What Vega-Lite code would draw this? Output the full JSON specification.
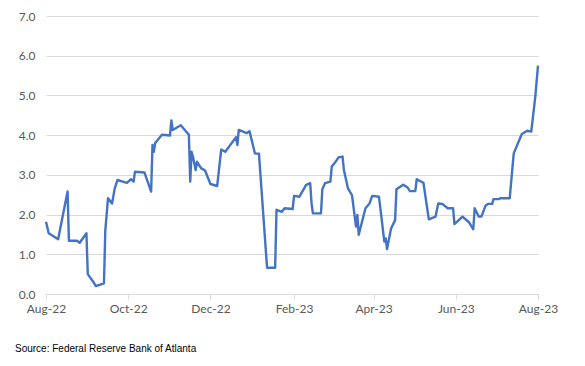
{
  "$schema": "https://vega.github.io/schema/vega-lite/v6.json",
  "width": 492,
  "height": 278,
  "autosize": {"type": "none"},
  "padding": {"left": 46, "top": 16, "right": 47, "bottom": 72},
  "background": "white",
  "config": {"view": {"stroke": null}},
  "title": {
    "text": "Source: Federal Reserve Bank of Atlanta",
    "orient": "bottom",
    "anchor": "start",
    "frame": "group",
    "offset": 30,
    "dx": -31,
    "font": "Liberation Sans",
    "fontSize": 10,
    "fontWeight": "normal",
    "color": "#000000"
  },
  "data": {
    "values": [
      {"date": "2022-08-01", "value": 1.82},
      {"date": "2022-08-03", "value": 1.53},
      {"date": "2022-08-10", "value": 1.38},
      {"date": "2022-08-17", "value": 2.58},
      {"date": "2022-08-18", "value": 1.34},
      {"date": "2022-08-24", "value": 1.34},
      {"date": "2022-08-26", "value": 1.29},
      {"date": "2022-08-31", "value": 1.53},
      {"date": "2022-09-01", "value": 0.50},
      {"date": "2022-09-05", "value": 0.31},
      {"date": "2022-09-07", "value": 0.20},
      {"date": "2022-09-13", "value": 0.27},
      {"date": "2022-09-14", "value": 1.60},
      {"date": "2022-09-16", "value": 2.41},
      {"date": "2022-09-19", "value": 2.28},
      {"date": "2022-09-21", "value": 2.66},
      {"date": "2022-09-23", "value": 2.87},
      {"date": "2022-09-30", "value": 2.80},
      {"date": "2022-10-03", "value": 2.89},
      {"date": "2022-10-05", "value": 2.83},
      {"date": "2022-10-06", "value": 3.08},
      {"date": "2022-10-13", "value": 3.06},
      {"date": "2022-10-18", "value": 2.58},
      {"date": "2022-10-19", "value": 3.75},
      {"date": "2022-10-20", "value": 3.58},
      {"date": "2022-10-21", "value": 3.80},
      {"date": "2022-10-26", "value": 4.01},
      {"date": "2022-11-01", "value": 3.99},
      {"date": "2022-11-02", "value": 4.37},
      {"date": "2022-11-03", "value": 4.13},
      {"date": "2022-11-09", "value": 4.25},
      {"date": "2022-11-15", "value": 4.01},
      {"date": "2022-11-16", "value": 2.83},
      {"date": "2022-11-17", "value": 3.58},
      {"date": "2022-11-18", "value": 3.46},
      {"date": "2022-11-20", "value": 3.12},
      {"date": "2022-11-21", "value": 3.33},
      {"date": "2022-11-24", "value": 3.17},
      {"date": "2022-11-27", "value": 3.11},
      {"date": "2022-12-01", "value": 2.77},
      {"date": "2022-12-06", "value": 2.72},
      {"date": "2022-12-09", "value": 3.64},
      {"date": "2022-12-12", "value": 3.58},
      {"date": "2022-12-20", "value": 3.95},
      {"date": "2022-12-21", "value": 3.75},
      {"date": "2022-12-22", "value": 4.13},
      {"date": "2022-12-28", "value": 4.05},
      {"date": "2022-12-30", "value": 4.10},
      {"date": "2023-01-03", "value": 3.54},
      {"date": "2023-01-06", "value": 3.53},
      {"date": "2023-01-12", "value": 0.66},
      {"date": "2023-01-18", "value": 0.66},
      {"date": "2023-01-19", "value": 2.12},
      {"date": "2023-01-23", "value": 2.07},
      {"date": "2023-01-25", "value": 2.16},
      {"date": "2023-01-31", "value": 2.14},
      {"date": "2023-02-01", "value": 2.47},
      {"date": "2023-02-05", "value": 2.45},
      {"date": "2023-02-10", "value": 2.75},
      {"date": "2023-02-13", "value": 2.79},
      {"date": "2023-02-14", "value": 2.28},
      {"date": "2023-02-15", "value": 2.03},
      {"date": "2023-02-21", "value": 2.03},
      {"date": "2023-02-22", "value": 2.64},
      {"date": "2023-02-24", "value": 2.79},
      {"date": "2023-02-28", "value": 2.83},
      {"date": "2023-03-01", "value": 3.21},
      {"date": "2023-03-03", "value": 3.29},
      {"date": "2023-03-06", "value": 3.44},
      {"date": "2023-03-09", "value": 3.46},
      {"date": "2023-03-10", "value": 3.12},
      {"date": "2023-03-13", "value": 2.66},
      {"date": "2023-03-16", "value": 2.49},
      {"date": "2023-03-19", "value": 1.70},
      {"date": "2023-03-20", "value": 1.99},
      {"date": "2023-03-21", "value": 1.49},
      {"date": "2023-03-26", "value": 2.16},
      {"date": "2023-03-29", "value": 2.28},
      {"date": "2023-03-31", "value": 2.47},
      {"date": "2023-04-05", "value": 2.45},
      {"date": "2023-04-09", "value": 1.32},
      {"date": "2023-04-10", "value": 1.40},
      {"date": "2023-04-11", "value": 1.13},
      {"date": "2023-04-14", "value": 1.65},
      {"date": "2023-04-17", "value": 1.86},
      {"date": "2023-04-18", "value": 2.64},
      {"date": "2023-04-23", "value": 2.75},
      {"date": "2023-04-26", "value": 2.69},
      {"date": "2023-04-28", "value": 2.59},
      {"date": "2023-05-02", "value": 2.59},
      {"date": "2023-05-03", "value": 2.89},
      {"date": "2023-05-08", "value": 2.80},
      {"date": "2023-05-12", "value": 1.88},
      {"date": "2023-05-17", "value": 1.95},
      {"date": "2023-05-19", "value": 2.28},
      {"date": "2023-05-22", "value": 2.27},
      {"date": "2023-05-26", "value": 2.16},
      {"date": "2023-05-30", "value": 2.16},
      {"date": "2023-05-31", "value": 1.76},
      {"date": "2023-06-06", "value": 1.95},
      {"date": "2023-06-11", "value": 1.80},
      {"date": "2023-06-14", "value": 1.63},
      {"date": "2023-06-15", "value": 2.16},
      {"date": "2023-06-18", "value": 1.95},
      {"date": "2023-06-20", "value": 1.95},
      {"date": "2023-06-23", "value": 2.22},
      {"date": "2023-06-25", "value": 2.27},
      {"date": "2023-06-28", "value": 2.27},
      {"date": "2023-06-29", "value": 2.39},
      {"date": "2023-07-03", "value": 2.39},
      {"date": "2023-07-04", "value": 2.41},
      {"date": "2023-07-11", "value": 2.41},
      {"date": "2023-07-14", "value": 3.54},
      {"date": "2023-07-20", "value": 4.03},
      {"date": "2023-07-24", "value": 4.11},
      {"date": "2023-07-27", "value": 4.09},
      {"date": "2023-07-30", "value": 4.97},
      {"date": "2023-08-01", "value": 5.75}
    ]
  },
  "mark": {"type": "line", "color": "#4472C4", "strokeWidth": 2.4, "strokeJoin": "round", "clip": false},
  "encoding": {
    "x": {
      "field": "date",
      "type": "temporal",
      "scale": {
        "type": "utc",
        "nice": false,
        "domain": [
          {"year": 2022, "month": 8, "date": 1, "utc": true},
          {"year": 2023, "month": 8, "date": 1, "utc": true}
        ]
      },
      "axis": {
        "title": null,
        "values": [
          {"year": 2022, "month": 8, "date": 1, "utc": true},
          {"year": 2022, "month": 10, "date": 1, "utc": true},
          {"year": 2022, "month": 12, "date": 1, "utc": true},
          {"year": 2023, "month": 2, "date": 1, "utc": true},
          {"year": 2023, "month": 4, "date": 1, "utc": true},
          {"year": 2023, "month": 6, "date": 1, "utc": true},
          {"year": 2023, "month": 8, "date": 1, "utc": true}
        ],
        "labelExpr": "utcFormat(datum.value, '%b-%y')",
        "grid": false,
        "domainColor": "#D9D9D9",
        "domainWidth": 1,
        "tickColor": "#D9D9D9",
        "tickSize": 5,
        "labelPadding": 4,
        "labelFont": "Lato",
        "labelFontSize": 12,
        "labelColor": "#595959",
        "labelFlush": false,
        "labelOverlap": false
      }
    },
    "y": {
      "field": "value",
      "type": "quantitative",
      "scale": {"domain": [0, 7], "nice": false},
      "axis": {
        "title": null,
        "values": [0, 1, 2, 3, 4, 5, 6, 7],
        "format": ".1f",
        "domain": false,
        "ticks": false,
        "gridColor": "#D9D9D9",
        "gridWidth": 1,
        "labelPadding": 11,
        "labelFont": "Lato",
        "labelFontSize": 12,
        "labelColor": "#595959"
      }
    }
  }
}
